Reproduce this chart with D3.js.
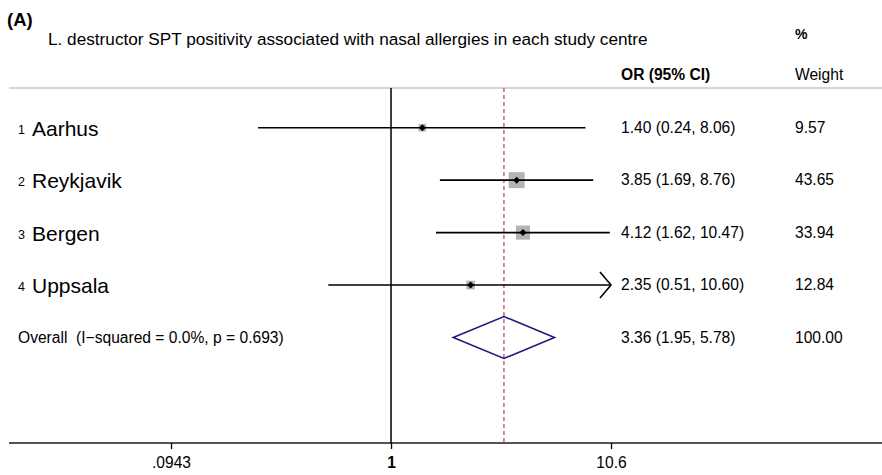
<!DOCTYPE html>
<html><head><meta charset="utf-8">
<script src="https://cdn.jsdelivr.net/npm/d3@7"></script>
<style>
html,body{margin:0;padding:0;background:#fff;}
svg{display:block;font-family:"Liberation Sans",Arial,Helvetica,sans-serif;}
text{white-space:pre;}
</style></head>
<body><svg id="chart" width="882" height="475"></svg>
<script>
// ---- data ----
const studyIds = ["1", "2", "3", "4"];
const studies = ["Aarhus", "Reykjavik", "Bergen", "Uppsala"];
const orValues = [1.40, 3.85, 4.12, 2.35];
const ciLower = [0.24, 1.69, 1.62, 0.51];
const ciUpper = [8.06, 8.76, 10.47, 10.60];
const weights = [9.57, 43.65, 33.94, 12.84];
const overallLabel = "Overall  (I\u2212squared = 0.0%, p = 0.693)";
const overallOR = [3.36, 1.95, 5.78];
const overallWeight = 100.00;
const tickValues = [0.0943, 1, 10.6];
const tickLabels = [".0943", "1", "10.6"];
const panelLabel = "(A)";
const title = "L. destructor SPT positivity associated with nasal allergies in each study centre";

// ---- layout ----
const W = 882, H = 475;
const svg = d3.select("#chart");
const x = d3.scaleLog().domain([tickValues[0], tickValues[2]]).range([171, 611]);
const y = d3.scaleLinear().domain([0, 4]).range([127.7, 337.5]);
const box = d3.scaleSqrt().domain([0, d3.max(weights)]).range([0, 16]);
const f2 = d3.format(".2f");
const topY = 88, axisY = 443;
const statX = 621, wX = 795;
const fs = 15.6;

// header
svg.append("text").attr("x", 7).attr("y", 26).attr("font-size", 18.5).attr("font-weight", "bold").text(panelLabel);
svg.append("text").attr("x", 48).attr("y", 45).attr("font-size", 17.2).text(title);
svg.append("text").attr("x", wX).attr("y", 39).attr("font-size", 14).attr("font-weight", "bold").text("%");
svg.append("text").attr("x", statX).attr("y", 80).attr("font-size", fs).attr("font-weight", "bold").text("OR (95% CI)");
svg.append("text").attr("x", wX).attr("y", 80).attr("font-size", fs).text("Weight");
svg.append("line").attr("x1", 9).attr("x2", W).attr("y1", topY).attr("y2", topY)
  .attr("stroke", "#c8c8c8").attr("stroke-width", 1.6);

// axis
const axisG = svg.append("g").attr("transform", `translate(0,${axisY})`);
axisG.append("line").attr("x1", 9).attr("x2", W).attr("stroke", "#555").attr("stroke-width", 2);
const ax = d3.axisBottom(x).tickValues(tickValues).tickFormat((d, i) => tickLabels[i]).tickSize(6).tickSizeOuter(0);
axisG.call(ax);
axisG.select(".domain").remove();
axisG.selectAll(".tick line").attr("stroke", "#000").attr("stroke-width", 1.3);
axisG.selectAll(".tick text").attr("font-family", null).attr("font-size", fs).attr("fill", "#000").attr("dy", null).attr("y", 25)
  .attr("font-weight", d => d === 1 ? "bold" : "normal");

// reference lines
svg.append("line").attr("x1", x(1)).attr("x2", x(1)).attr("y1", topY).attr("y2", axisY)
  .attr("stroke", "#000").attr("stroke-width", 1.5);
svg.append("line").attr("x1", x(overallOR[0])).attr("x2", x(overallOR[0])).attr("y1", topY).attr("y2", axisY)
  .attr("stroke", "#b03030").attr("stroke-width", 1.1).attr("stroke-dasharray", "4,3");

// study rows
const rows = studies.map((s, i) => ({id: studyIds[i], name: s, or: orValues[i], lo: ciLower[i], hi: ciUpper[i], w: weights[i], i}));
const g = svg.selectAll("g.row").data(rows).enter().append("g").attr("class", "row");
g.append("rect")
  .attr("x", d => x(d.or) - box(d.w) / 2).attr("y", d => y(d.i) - box(d.w) / 2)
  .attr("width", d => box(d.w)).attr("height", d => box(d.w)).attr("fill", "#b4b4b4");
g.append("line")
  .attr("x1", d => x(d.lo)).attr("x2", d => x(Math.min(d.hi, tickValues[2])))
  .attr("y1", d => y(d.i)).attr("y2", d => y(d.i)).attr("stroke", "#000").attr("stroke-width", 1.6);
g.filter(d => d.hi >= tickValues[2]).append("path")
  .attr("d", d => `M${x(tickValues[2]) - 11},${y(d.i) - 13}L${x(tickValues[2])},${y(d.i)}L${x(tickValues[2]) - 11},${y(d.i) + 13}`)
  .attr("fill", "none").attr("stroke", "#000").attr("stroke-width", 1.6);
g.append("path")
  .attr("d", d => `M${x(d.or)},${y(d.i) - 3.5}L${x(d.or) + 3.5},${y(d.i)}L${x(d.or)},${y(d.i) + 3.5}L${x(d.or) - 3.5},${y(d.i)}Z`)
  .attr("fill", "#000");
g.append("text").attr("x", 18).attr("y", d => y(d.i) + 6).attr("font-size", 12.5).text(d => d.id);
g.append("text").attr("x", 32).attr("y", d => y(d.i) + 8).attr("font-size", 21).text(d => d.name);
g.append("text").attr("x", statX).attr("y", d => y(d.i) + 5).attr("font-size", fs)
  .text(d => `${f2(d.or)} (${f2(d.lo)}, ${f2(d.hi)})`);
g.append("text").attr("x", wX).attr("y", d => y(d.i) + 5).attr("font-size", fs).text(d => f2(d.w));

// overall
const oy = y(4);
svg.append("path")
  .attr("d", `M${x(overallOR[1])},${oy}L${x(overallOR[0])},${oy - 21}L${x(overallOR[2])},${oy}L${x(overallOR[0])},${oy + 21}Z`)
  .attr("fill", "none").attr("stroke", "#1c1c80").attr("stroke-width", 1.6);
svg.append("text").attr("x", 18).attr("y", oy + 5).attr("font-size", fs).text(overallLabel);
svg.append("text").attr("x", statX).attr("y", oy + 5).attr("font-size", fs)
  .text(`${f2(overallOR[0])} (${f2(overallOR[1])}, ${f2(overallOR[2])})`);
svg.append("text").attr("x", wX).attr("y", oy + 5).attr("font-size", fs).text(f2(overallWeight));
</script></body></html>
